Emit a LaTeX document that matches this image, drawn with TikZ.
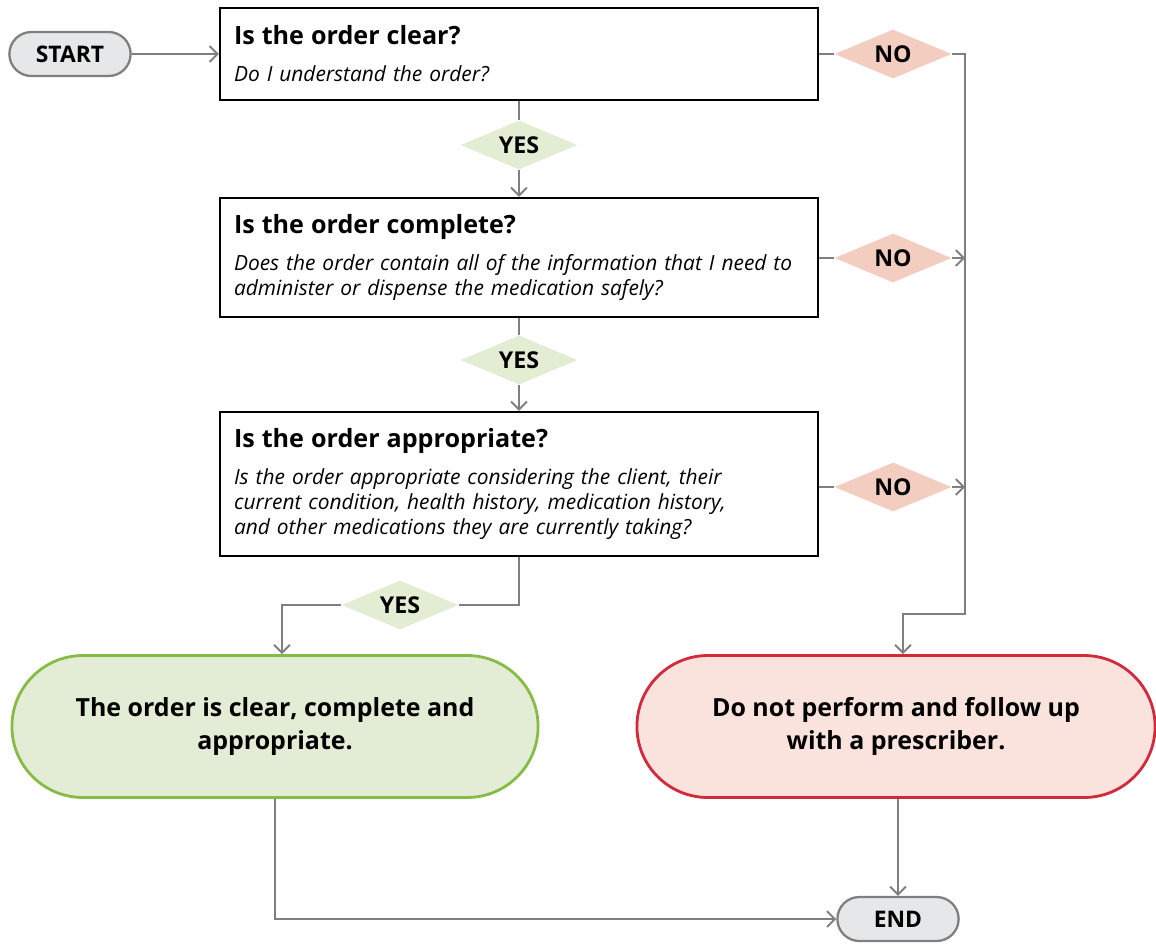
\documentclass[tikz,border=0pt]{standalone}
\usepackage{fontspec}
\setmainfont{Open Sans}
\usetikzlibrary{shapes.geometric,shapes.misc,arrows.meta}

\definecolor{linegray}{HTML}{7F7F7F}
\definecolor{pillfill}{HTML}{E6E7E8}
\definecolor{yesfill}{HTML}{E2EDD3}
\definecolor{nofill}{HTML}{F2CDC0}
\definecolor{okfill}{HTML}{E3ECD5}
\definecolor{okline}{HTML}{86BB46}
\definecolor{stopfill}{HTML}{F9E3DC}
\definecolor{stopline}{HTML}{D2293B}

\def\boxx{519}
\def\railx{965}
\def\branchx{893}
\newcommand{\qhead}[1]{{\upshape\bfseries\fontsize{14.3}{17}\selectfont #1}}

\begin{document}
\begin{tikzpicture}[x=0.02cm,y=-0.02cm,>={Straight Barb[length=4.5pt,width=9pt]}]
    \tikzstyle{flow}=[draw=linegray, line width=1.1pt]
    \tikzstyle{pill}=[rounded rectangle, draw=linegray, line width=1.3pt, fill=pillfill,
        minimum width=2.66cm, minimum height=0.88cm, font=\bfseries\fontsize{13}{15}\selectfont]
    \tikzstyle{question}=[rectangle, draw=black, line width=1.4pt, fill=white,
        minimum width=11.96cm, text width=11.4cm, inner xsep=0.28cm, align=left,
        font=\itshape\fontsize{11.9}{14.2}\selectfont]
    \tikzstyle{answer}=[diamond, aspect=2.4, inner sep=0pt, minimum width=2.34cm,
        minimum height=0.98cm, font=\bfseries\fontsize{13.2}{15}\selectfont]
    \tikzstyle{yes}=[answer, fill=yesfill]
    \tikzstyle{no}=[answer, fill=nofill]
    \tikzstyle{terminal}=[rounded rectangle, line width=1.6pt, minimum height=2.84cm,
        align=center, font=\bfseries\fontsize{14.2}{18.8}\selectfont]

    \useasboundingbox (0,0) rectangle (1156,944);

    % Start and the three questions
    \node[pill] (start) at (70,54) {START};
    \node[question, minimum height=1.84cm] (q1) at (\boxx,54)
        {\qhead{Is the order clear?}\\[6.8pt]
         Do I understand the order?};
    \node[question, minimum height=2.38cm] (q2) at (\boxx,257.5)
        {\qhead{Is the order complete?}\\[6.8pt]
         Does the order contain all of the information that I need to\\
         administer or dispense the medication safely?};
    \node[question, minimum height=2.88cm] (q3) at (\boxx,484)
        {\qhead{Is the order appropriate?}\\[6.8pt]
         Is the order appropriate considering the client, their\\
         current condition, health history, medication history,\\
         and other medications they are currently taking?};

    % Answers
    \node[yes] (yes1) at (\boxx,145) {YES};
    \node[yes] (yes2) at (\boxx,360) {YES};
    \node[yes] (yes3) at (400,605) {YES};
    \foreach \name / \y in {1/54,2/258,3/487}
        \node[no] (no\name) at (\branchx,\y) {NO};

    % Outcomes
    \node[terminal, draw=okline, fill=okfill, minimum width=10.76cm] (ok) at (275,726.5)
        {The order is clear, complete and\\appropriate.};
    \node[terminal, draw=stopline, fill=stopfill, minimum width=10.6cm] (stop) at (896,726.5)
        {Do not perform and follow up\\with a prescriber.};
    \node[pill] (fin) at (898,919) {END};

    % Rail on the right
    \coordinate (railtop) at (\railx,54);
    \coordinate (railbot) at (\railx,614);
    \coordinate (rail2) at (\railx,258);
    \coordinate (rail3) at (\railx,487);

    % Connectors
    \draw[flow,->] (start) -- (q1);
    \draw[flow] (q1) -- (yes1);
    \draw[flow,->] (yes1) -- (q2);
    \draw[flow] (q2) -- (yes2);
    \draw[flow,->] (yes2) -- (q3);
    \draw[flow] (q3.south) |- (yes3.east);
    \draw[flow,->] (yes3.west) -| ([xshift=7*0.02cm]ok.north);

    \foreach \name in {1,2,3}
        \draw[flow] (q\name.east |- no\name) -- (no\name.west);
    \draw[flow,->] (no1.east) -- (railtop) -- (railbot) -| ([xshift=7*0.02cm]stop.north);
    \draw[flow,->] (no2.east) -- (rail2);
    \draw[flow,->] (no3.east) -- (rail3);

    \draw[flow,->] (ok.south) |- (fin.west);
    \draw[flow,->] (stop.south -| fin.north) -- (fin.north);
\end{tikzpicture}
\end{document}
